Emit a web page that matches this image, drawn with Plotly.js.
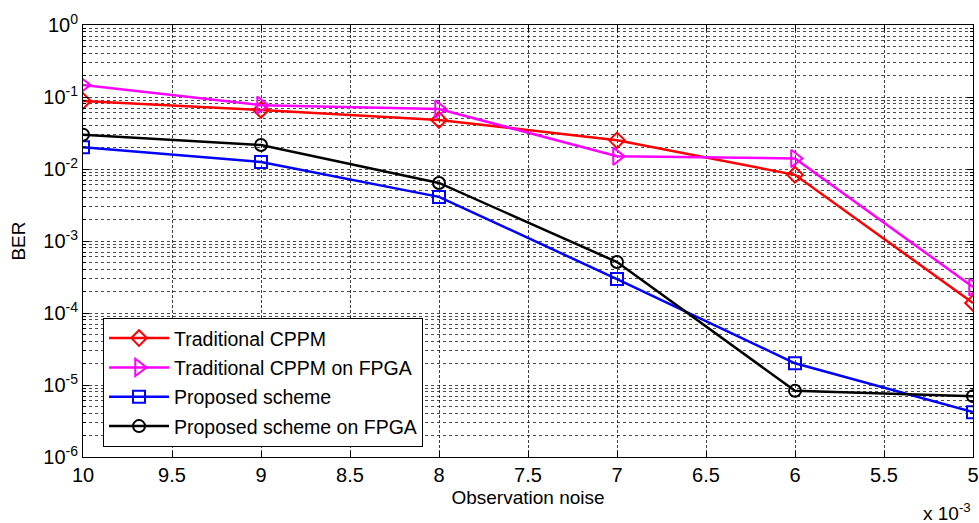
<!DOCTYPE html>
<html>
<head>
<meta charset="utf-8">
<script src="https://cdn.plot.ly/plotly-3.0.1.min.js"></script>
<style>html,body{margin:0;padding:0;background:#fff;}#chart{width:979px;height:523px;}</style>
</head>
<body>
<div id="chart"></div>
<script>
// Observation noise (units of 1e-3)
const noise = [10, 9, 8, 7, 6, 5];
// BER values per series
const traditionalCPPM = [0.088, 0.066, 0.048, 0.025, 0.0083, 1.38e-4];
const traditionalCPPMFPGA = [0.147, 0.077, 0.068, 0.015, 0.014, 2.3e-4];
const proposedScheme = [0.020, 0.0125, 0.0041, 2.96e-4, 2.0e-5, 4.2e-6];
const proposedSchemeFPGA = [0.030, 0.0215, 0.0064, 5.1e-4, 8.3e-6, 7.0e-6];
const seriesNames = ['Traditional CPPM', 'Traditional CPPM on FPGA', 'Proposed scheme', 'Proposed scheme on FPGA'];
// Tick labels
const xTickVals = [10, 9.5, 9, 8.5, 8, 7.5, 7, 6.5, 6, 5.5, 5];
const xTickText = ['10', '9.5', '9', '8.5', '8', '7.5', '7', '6.5', '6', '5.5', '5'];
const yDecades = [-6, -5, -4, -3, -2, -1, 0];

const yTickVals = yDecades.map(d => Math.pow(10, d));
const yTickText = yDecades.map(d => '10<sup>' + (d < 0 ? '-' + Math.abs(d) : d) + '</sup>');
const yMinorVals = [];
yDecades.forEach(d => {
  if (d === 0) return;
  for (let m = 2; m <= 9; m++) yMinorVals.push(m * Math.pow(10, d));
});

const font = 'Liberation Sans, Arial, sans-serif';
const styles = [
  {color: '#ff0000', symbol: 'diamond-open', size: 12},
  {color: '#ff00ff', symbol: 'triangle-right-open', size: 15},
  {color: '#0000ff', symbol: 'square-open', size: 12},
  {color: '#000000', symbol: 'circle-open', size: 12}
];
const ys = [traditionalCPPM, traditionalCPPMFPGA, proposedScheme, proposedSchemeFPGA];

const traces = ys.map((y, i) => ({
  x: noise, y: y, name: seriesNames[i], type: 'scatter', mode: 'lines+markers',
  legendgroup: 'g' + i,
  line: {color: styles[i].color, width: 2.5},
  marker: {symbol: styles[i].symbol, size: styles[i].size, color: styles[i].color, line: {color: styles[i].color, width: 2}}
}));

const gridH = 'rgba(0,0,0,0.7)';
const layout = {
  width: 979, height: 523,
  margin: {l: 83, r: 6, t: 25, b: 66},
  paper_bgcolor: '#fff', plot_bgcolor: '#fff',
  showlegend: true,
  xaxis: {
    range: [10, 5], tickmode: 'array', tickvals: xTickVals, ticktext: xTickText,
    showgrid: true, gridcolor: 'rgba(0,0,0,0.75)', griddash: '3px,2px', gridwidth: 1,
    ticks: 'inside', ticklen: 6, tickcolor: '#000', mirror: 'ticks',
    showline: true, linecolor: '#000', linewidth: 1, zeroline: false,
    tickfont: {family: font, size: 20, color: '#000'},
    title: {text: 'Observation noise', font: {family: font, size: 19, color: '#000'}, standoff: 5}
  },
  yaxis: {
    type: 'log', range: [-6, 0], tickmode: 'array', tickvals: yTickVals, ticktext: yTickText,
    showgrid: true, gridcolor: gridH, griddash: '3px,3px', gridwidth: 1,
    ticks: 'inside', ticklen: 6, tickcolor: '#000', mirror: 'ticks',
    minor: {tickmode: 'array', tickvals: yMinorVals, showgrid: true, gridcolor: gridH, griddash: '3px,3px', gridwidth: 1, ticks: 'inside', ticklen: 3, tickcolor: '#000'},
    showline: true, linecolor: '#000', linewidth: 1, zeroline: false,
    tickfont: {family: font, size: 20, color: '#000'},
    title: {text: 'BER', font: {family: font, size: 19, color: '#000'}, standoff: 12}
  },
  legend: {
    x: 0.0225, y: 0.322, xanchor: 'left', yanchor: 'top',
    bgcolor: '#fff', bordercolor: '#000', borderwidth: 1,
    font: {family: font, size: 19.5, color: '#000'},
    tracegroupgap: 1, itemwidth: 60
  },
  annotations: [{
    xref: 'paper', yref: 'paper', x: 1.0, y: -0.127, xanchor: 'right', yanchor: 'middle',
    text: 'x 10<sup>-3</sup>', showarrow: false, font: {family: font, size: 19, color: '#000'}
  }]
};

Plotly.newPlot('chart', traces, layout, {displayModeBar: false, staticPlot: true});
</script>
</body>
</html>
